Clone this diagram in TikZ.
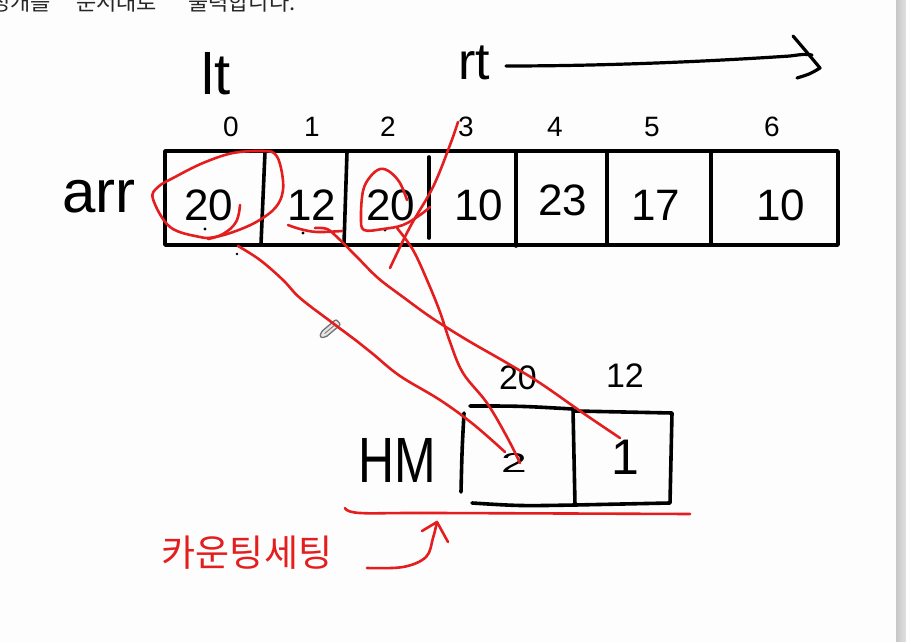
\documentclass[tikz,border=0pt]{standalone}
\usepackage{fontspec}
\setmainfont{Liberation Sans}
\newfontfamily\krfont{Noto Sans CJK KR}
\definecolor{penred}{RGB}{228,30,30}
\definecolor{paper}{RGB}{253,253,253}
\begin{document}
\begin{tikzpicture}[x=1pt,y=-1pt,
  ink/.style={line width=3.6pt, draw=black, line cap=round, line join=round},
  pen/.style={line width=2.6pt, draw=penred, line cap=round, line join=round},
  idx/.style={font=\fontsize{28}{30}\selectfont, inner sep=0pt},
  val/.style={font=\fontsize{44}{48}\selectfont, inner sep=0pt},
  toptext/.style={font=\krfont\fontsize{22}{24}\selectfont, inner sep=0pt, anchor=base west, text=black!85}]
\useasboundingbox (0,0) rectangle (906,642);
\clip (0,0) rectangle (906,642);
\fill[paper] (0,0) rectangle (906,642);
% right gray strip
\shade[left color=black!22, right color=black!12] (896,0) rectangle (906,642);

% cut-off line of text at the top
\node[toptext] (t1) at (-10,11) {정개를};
\node[toptext] (t2) at (76,11) {순서대로};
\node[toptext] (t3) at (188,11) {출력합니다.};

% lt / rt labels and arrow
\node[inner sep=0pt, font=\fontsize{58}{60}\selectfont] (lt) at (216,74) {lt};
\node[inner sep=0pt, font=\fontsize{52}{56}\selectfont] (rt) at (474,63) {rt};
\coordinate (a-start) at (506,66);
\coordinate (atip) at (820,68);
\draw[ink, line width=3.2pt] (a-start) .. controls (600,66) and (700,62) .. (790,56) .. controls (805,54) .. (812,55);
\draw[ink, line width=3.2pt] (793,36) .. controls (805,50) .. (atip) .. controls (810,74) .. (797,78);

% array
\node[inner sep=0pt, font=\fontsize{60}{62}\selectfont] (arr) at (99,197) {arr};
\draw[ink] (165,151) rectangle (838,245);
\draw[ink] (265,152) -- (261,244);
\draw[ink] (347,152) -- (344,244);
\draw[ink] (429,157) -- (429,238);
\draw[ink] (516,151) -- (516,246);
\draw[ink] (607,151) -- (607,245);
\draw[ink] (711,151) -- (711,245);

\foreach \i/\x in {0/231,1/312,2/388,3/466,4/555,5/652,6/772}
  \node[idx] (i\i) at (\x,127) {\i};

\node[val] (v0) at (209,205) {20};
\node[val] (v1) at (312,205) {12};
\node[val] (v2) at (391,205) {20};
\node[val] (v3) at (479,205) {10};
\node[val] (v4) at (563,200) {23};
\node[val] (v5) at (656,205) {17};
\node[val] (v6) at (781,205) {10};

% small black dots under numbers
\fill (205,229) circle (1.6pt);
\fill (303,233) circle (1.6pt);
\fill (385,230) circle (1.6pt);
\fill (237,254) circle (1.4pt);

% HM boxes
\node[inner sep=0pt, font=\fontsize{64}{66}\selectfont, xscale=0.78] (hm) at (397,460) {HM};
\draw[ink] (470,406) .. controls (520,406) .. (573,409) -- (575,505) .. controls (520,506) .. (472,503);
\draw[ink] (464,413) .. controls (462,450) .. (461,492);
\draw[ink] (575,411) -- (672,413) -- (670,503) -- (575,505);
\node[inner sep=0pt, font=\fontsize{34}{36}\selectfont] (h20) at (518,378) {20};
\node[inner sep=0pt, font=\fontsize{34}{36}\selectfont] (h12) at (625,376) {12};
\node[inner sep=0pt, font=\fontsize{44}{46}\selectfont, yscale=0.62, xscale=1.05] (c2) at (514,463) {2};
\node[inner sep=0pt, font=\fontsize{50}{52}\selectfont] (c1) at (625,457) {1};

% paperclip icon
\begin{scope}[shift={(330,329)}, rotate=40]
  \draw[black!55, line width=1.3pt, rounded corners=2pt, fill=black!10] (-9,-3.5) -- (11,-3.5) -- (11,3.5) -- (-9,3.5) -- (-13,0) -- cycle;
  \draw[black!55, line width=0.8pt] (-7,0) -- (8,0);
\end{scope}

% red annotations
\coordinate (a0) at (238,246);
\coordinate (a1) at (505,452);
\coordinate (b0) at (397,228);
\coordinate (b1) at (520,463);
\coordinate (c0) at (315,228);
\coordinate (c3) at (620,438);
\coordinate (d0) at (390,268);
\coordinate (d1) at (458,122);

% loop around arr[0]
\draw[pen] plot[smooth cycle, tension=0.6] coordinates {(200,237) (170,227) (153,199) (158,187) (175,177) (203,163) (233,153) (263,151) (275,154) (281,168) (283,190) (276,207) (258,221) (236,231) (215,237)};
\draw[pen] plot[smooth, tension=0.7] coordinates {(240,205) (236,222) (223,234) (208,239)};
% underline under 12
\draw[pen] plot[smooth, tension=0.6] coordinates {(288,225) (300,229) (317,232) (342,231)};
% loop around arr[2]
\draw[pen] plot[smooth, tension=0.6] coordinates {(407,200) (400,183) (390,172) (380,169) (370,177) (363,191) (361,217) (364,230) (383,229) (403,225) (420,215) (430,207)};
% line up to index 3
\draw[pen] plot[smooth, tension=0.6] coordinates {(d0) (410,227) (433,187) (450,145) (d1)};
% arr[0] -> HM 2
\draw[pen] plot[smooth, tension=0.6] coordinates {(a0) (260,260) (283,280) (300,298) (330,321) (358,342) (373,354) (400,376) (440,400) (473,424) (a1)};
% arr[2] -> HM 2
\draw[pen] plot[smooth, tension=0.6] coordinates {(b0) (413,250) (427,280) (440,312) (450,342) (463,373) (487,403) (507,437) (b1)};
% arr[1] -> HM 1
\draw[pen] plot[smooth, tension=0.6] coordinates {(c0) (327,229) (338,238) (357,257) (378,278) (403,297) (432,318) (467,340) (507,363) (540,383) (583,413) (c3)};
% red underline under HM
\coordinate (u0) at (345,508);
\coordinate (u1) at (690,514);
\draw[pen] plot[smooth, tension=0.6] coordinates {(u0) (360,513) (433,513) (u1)};
% label and arrow
\node[inner sep=0pt, text=penred, font=\krfont\fontsize{37}{40}\selectfont] (kr) at (247,553) {카운팅세팅};
\coordinate (r0) at (367,568);
\coordinate (r1) at (437,522);
\draw[pen] plot[smooth, tension=0.6] coordinates {(r0) (403,567) (426,557) (433,538) (r1)};
\draw[pen] (422,531) -- (r1) -- (448,542);
\end{tikzpicture}
\end{document}
